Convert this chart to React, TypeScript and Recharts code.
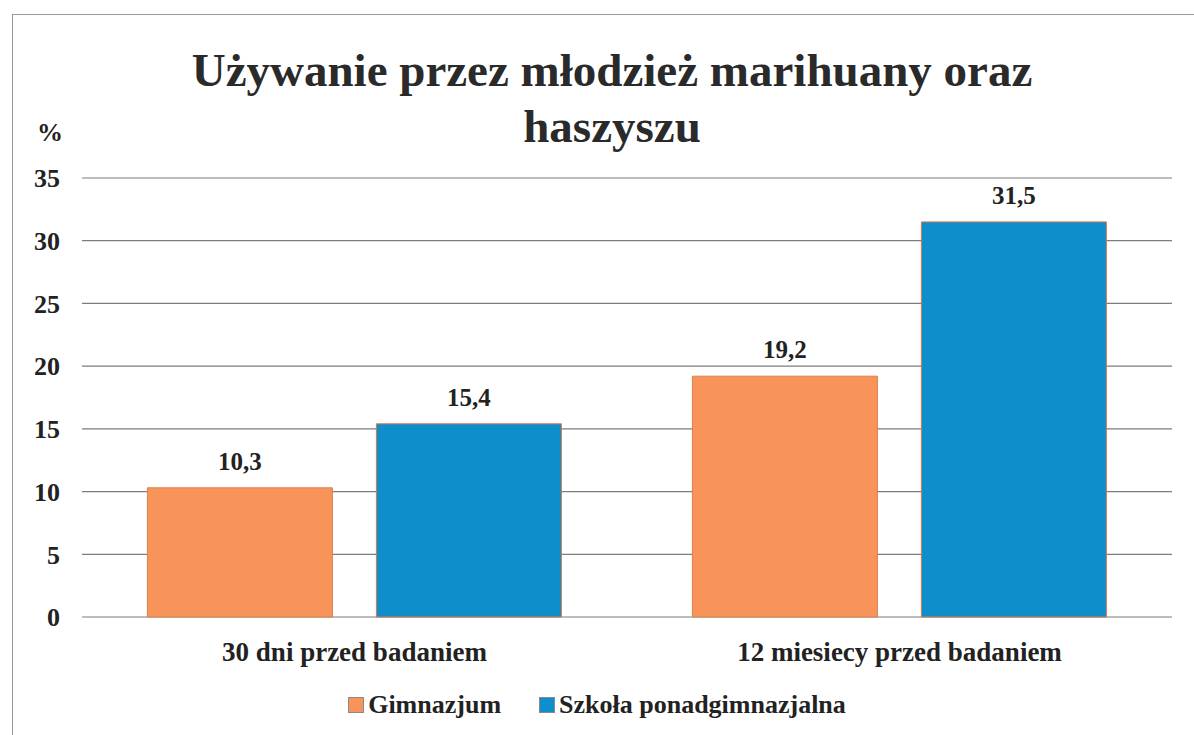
import React from "react";
import {
  BarChart, Bar, XAxis, YAxis, CartesianGrid, Legend, LabelList,
} from "recharts";

const categories = ["30 dni przed badaniem", "12 miesiecy przed badaniem"];
const gimnazjum = [10.3, 19.2];
const ponadgimnazjalna = [15.4, 31.5];
const yTicks = [0, 5, 10, 15, 20, 25, 30, 35];

const SERIF = '"Liberation Serif"';
const ORANGE = "#F8935A";
const BLUE = "#0E8FCB";

const data = categories.map((name, i) => ({
  name,
  gim: gimnazjum[i],
  pon: ponadgimnazjalna[i],
}));

const fmt = (v: any) => String(v).replace(".", ",");

function ChartLegend() {
  const item = (color: string, label: string, gap: number) => (
    <div style={{ display: "flex", alignItems: "center", marginRight: gap }}>
      <span style={{
        width: 14, height: 14, background: color,
        border: "1px solid #8a8a8a", marginRight: 4, display: "inline-block",
      }} />
      <span style={{ fontFamily: SERIF, fontWeight: "bold", fontSize: 26, color: "#222" }}>
        {label}
      </span>
    </div>
  );
  return (
    <div style={{ display: "flex", justifyContent: "center", height: 30, alignItems: "center" }}>
      {item(ORANGE, "Gimnazjum", 38)}
      {item(BLUE, "Szkoła ponadgimnazjalna", 0)}
    </div>
  );
}

export default function App() {
  const yTickStyle = { fill: "#222", fontSize: 26, fontWeight: "bold", fontFamily: SERIF };
  const xTickStyle = { fill: "#222", fontSize: 27, fontWeight: "bold", fontFamily: SERIF };
  const labelStyle = { fill: "#222", fontSize: 25, fontWeight: "bold", fontFamily: SERIF };
  return (
    <div style={{ position: "absolute", left: 0, top: 0, width: 1194, height: 735, background: "#fff", overflow: "hidden" }}>
      {/* scan frame */}
      <div style={{ position: "absolute", left: 12, top: 14, width: 1300, height: 800, borderLeft: "1px solid #999", borderTop: "1px solid #999" }} />
      <div style={{
        position: "absolute", left: 0, width: 1224, top: 42, textAlign: "center",
        fontFamily: SERIF, fontWeight: "bold", fontSize: 47, lineHeight: "56px", color: "#2a2a2a",
      }}>
        Używanie przez młodzież marihuany oraz<br />haszyszu
      </div>
      <div style={{
        position: "absolute", left: 37, top: 118, fontFamily: SERIF, fontWeight: "bold",
        fontSize: 26, color: "#222",
      }}>%</div>
      <BarChart
        width={1194}
        height={735}
        data={data}
        margin={{ top: 178, right: 22, left: 0, bottom: 15 }}
        barCategoryGap="12%"
        barGap={44}
      >
        <CartesianGrid vertical={false} stroke="#7d7d7d" strokeWidth={1.2} />
        <XAxis
          dataKey="name"
          axisLine={false}
          tickLine={false}
          tickSize={0}
          tickMargin={25}
          height={73}
          tick={xTickStyle}
        />
        <YAxis
          domain={[0, 35]}
          ticks={yTicks}
          axisLine={false}
          tickLine={false}
          tickSize={0}
          tickMargin={22}
          width={82}
          tick={yTickStyle}
        />
        <Legend verticalAlign="bottom" content={() => <ChartLegend />} wrapperStyle={{ left: 0, width: 1194 }} />
        <Bar dataKey="gim" name="Gimnazjum" fill={ORANGE} stroke="#D98050" strokeWidth={1} isAnimationActive={false}>
          <LabelList dataKey="gim" position="top" offset={18} formatter={fmt} style={labelStyle} />
        </Bar>
        <Bar dataKey="pon" name="Szkoła ponadgimnazjalna" fill={BLUE} stroke="#D9774A" strokeWidth={1} isAnimationActive={false}>
          <LabelList dataKey="pon" position="top" offset={18} formatter={fmt} style={labelStyle} />
        </Bar>
      </BarChart>
    </div>
  );
}
